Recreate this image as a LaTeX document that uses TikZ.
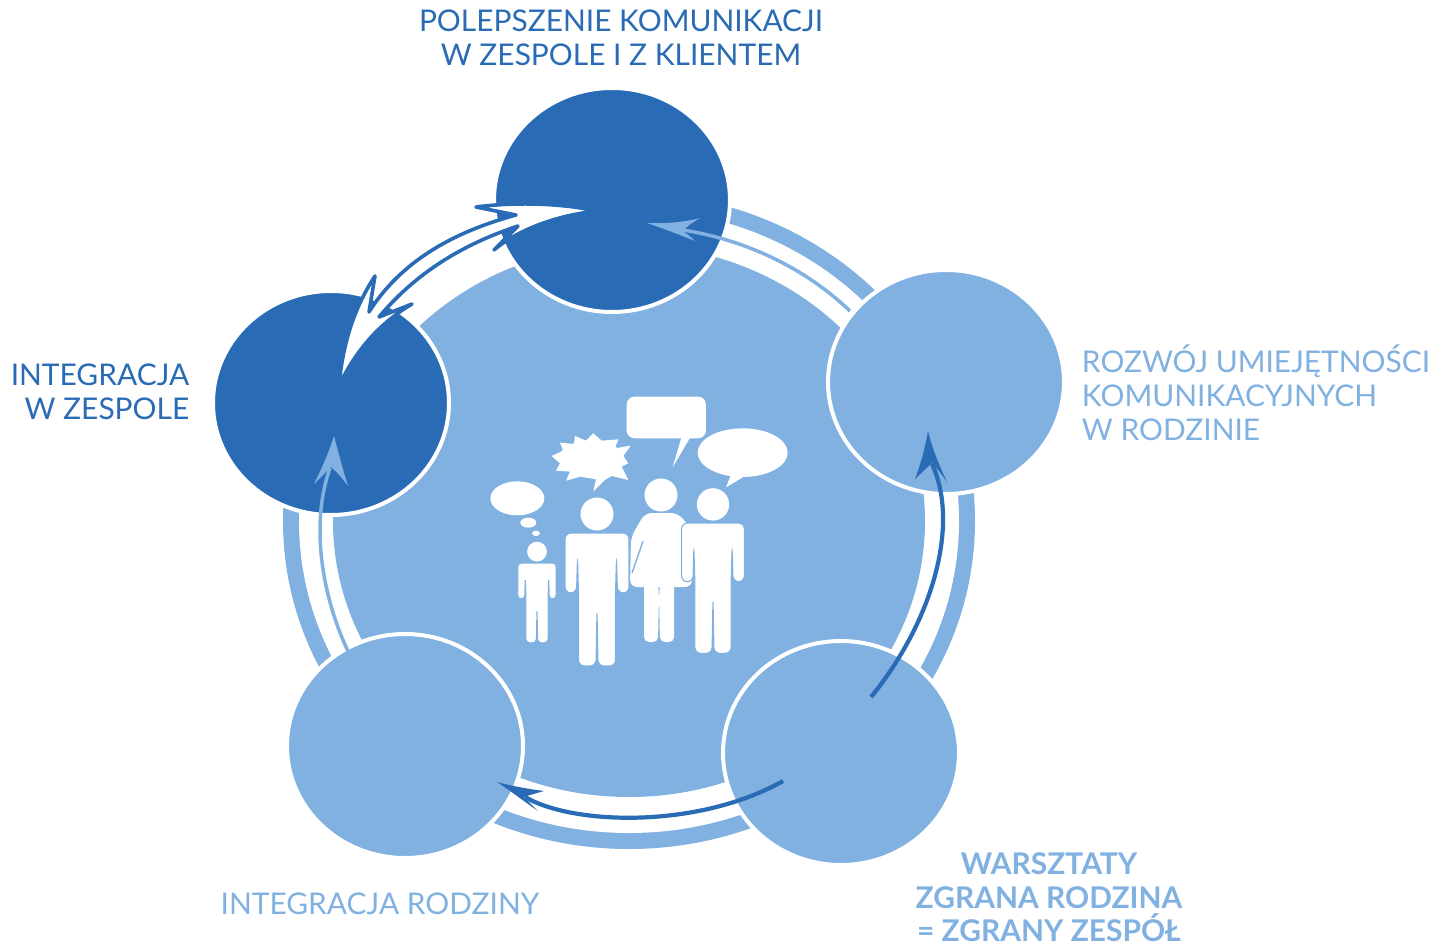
\documentclass[tikz,border=0pt]{standalone}
\usepackage{fontspec}
\setmainfont{Lato}
\usetikzlibrary{shapes.geometric}
\definecolor{dk}{HTML}{2A6BB5}
\definecolor{lt}{HTML}{80B1E1}
\tikzset{
 bub/.style={ellipse,minimum width=236pt,minimum height=224pt,inner sep=0pt,draw=white,line width=4pt},
 lab/.style={font=\fontsize{29.9}{34}\selectfont,align=center,inner sep=0pt},
 figure/.style={fill=white,draw=lt,line width=1.1pt},
 slit/.style={draw=lt,line width=1.4pt},
 dkarrow/.style={dk,line width=4.2pt},
 ltarrow/.style={lt,line width=3.5pt},
 dbl/.style={fill=white,draw=dk,line width=3.6pt,line join=round},
}
\newcommand\person[3]{%
 \begin{scope}[shift={(#1,#2)},scale=#3]
  \fill[white] (0,-19) circle (16.5);
  \path[figure,rounded corners=#3*6pt] (-32,0) -- (32,0) -- (32,60) -- (20.5,60) -- (19.5,25) -- (18.5,60) -- (18.5,133) -- (1,133) -- (0,77) -- (-1,133) -- (-18.5,133) -- (-18.5,60) -- (-19.5,25) -- (-20.5,60) -- (-32,60) -- cycle;
 \end{scope}}
\begin{document}
\begin{tikzpicture}[x=1pt,y=-1pt]
\useasboundingbox (0,0) rectangle (1438,947);
\fill[white] (0,0) rectangle (1438,947);
% ring
\fill[lt] (629,521) ellipse [x radius=346,y radius=328];
\fill[white] (629,521) ellipse [x radius=330,y radius=312];
\fill[white] (331,403) -- (612,200) -- (612,100) -- (250,230) -- cycle;
\fill[lt] (629,521) ellipse [x radius=296,y radius=276];
% bubbles
\node[bub,fill=dk] (top) at (612,200) {};
\node[bub,fill=lt] (right) at (946,382) {};
\node[bub,fill=lt] (br) at (841,753) {};
\node[bub,fill=lt] (bl) at (405,746) {};
\node[bub,fill=dk] (left) at (331,403) {};
% labels
\node[lab,text=dk] (t1) at (621,38) {POLEPSZENIE KOMUNIKACJI\\W ZESPOLE I Z KLIENTEM};
\node[lab,text=dk,align=right] (t2) at (100,392) {INTEGRACJA\\W ZESPOLE};
\node[lab,text=lt,align=left] (t3) at (1256,393) {ROZWÓJ UMIEJĘTNOŚCI\\KOMUNIKACYJNYCH\\W RODZINIE};
\node[lab,text=lt] (t4) at (380,904) {INTEGRACJA RODZINY};
\node[lab,text=lt,font=\fontsize{29.9}{33.5}\selectfont\bfseries] (t5) at (1049,897.5) {WARSZTATY\\ZGRANA RODZINA\\= ZGRANY ZESPÓŁ};
% arrows
\coordinate (a1s) at (871,697);
\coordinate (a1e) at (932,464);
\coordinate (a2s) at (783,781);
\coordinate (a2e) at (525,797);
\coordinate (a3s) at (850,311);
\coordinate (a3e) at (683,230);
\coordinate (a4s) at (355,665);
\coordinate (a4e) at (330,468);
\draw[ltarrow] (a3s) .. controls (805,268) and (746,240) .. (a3e);
\fill[lt] (647,223) .. controls (665,224) and (685,222) .. (700,218) .. controls (690,224) and (685,228) .. (683,231) .. controls (687,234) and (691,237) .. (695,241) .. controls (680,235) and (665,229) .. cycle;
\draw[ltarrow] (a4s) .. controls (325,610) and (308,530) .. (a4e);
\fill[lt] (334,436) .. controls (339,455) and (343,470) .. (348,486) .. controls (342,478) and (337,472) .. (331,467) .. controls (326,472) and (320,478) .. (314,484) .. controls (322,468) and (329,452) .. cycle;
\draw[dkarrow] (a1s) .. controls (933,621) and (960,524) .. (a1e);
\fill[dk] (928,431) .. controls (932,448) and (939,465) .. (947,482) .. controls (942,475) and (937,468) .. (932,463) .. controls (927,468) and (921,473) .. (915,479) .. controls (921,463) and (925,448) .. cycle;
\draw[dkarrow] (a2s) .. controls (700,828) and (575,826) .. (a2e);
\fill[dk] (497,782) .. controls (512,786) and (528,789) .. (544,791) .. controls (537,793) and (530,795) .. (524,797) .. controls (528,801) and (533,806) .. (538,811) .. controls (525,802) and (512,792) .. cycle;
% double arrow
\coordinate (da) at (597,211);
\coordinate (db) at (339,386);
\path[dbl] (da) .. controls (560,215) and (520,228) .. (494,250)
  -- (518,226) .. controls (470,242) and (420,268) .. (379,317)
  -- (412,304) .. controls (385,320) and (358,345) .. (db)
  .. controls (343,340) and (356,305) .. (375,276)
  -- (369,312) .. controls (400,263) and (450,233) .. (516,215)
  -- (476,207) .. controls (515,202) and (560,203) .. (da) -- cycle;
% speech bubbles
\begin{scope}[shift={(480,380)},x=0.3333pt,y=-0.3333pt]
 \fill[white] (112,355) ellipse [x radius=81,y radius=51];
 \fill[white] (145,428) ellipse [x radius=24,y radius=15];
 \fill[white] (168,460) ellipse [x radius=12,y radius=8];
 \fill[white] (333,232) ellipse [x radius=95,y radius=50];
 \fill[white] (215,228) -- (250,212) -- (240,188) -- (282,192) -- (285,168) -- (318,182) -- (340,160) -- (365,182) -- (415,178) -- (405,205) -- (452,197) -- (430,228) -- (445,250) -- (425,260) -- (445,300) -- (395,288) -- (375,300) -- (340,335) -- (348,298) -- (300,290) -- (258,302) -- (270,275) -- (228,272) -- (240,250) -- cycle;
 \fill[white,rounded corners=8pt] (440,50) rectangle (678,175);
 \fill[white] (605,170) -- (578,262) -- (632,170) -- cycle;
 \fill[white] (788,218) ellipse [x radius=135,y radius=73];
 \fill[white] (755,280) -- (738,322) -- (800,285) -- cycle;
\end{scope}
% people
\person{537}{563}{0.6}
\begin{scope}
 \fill[white] (661,495) circle (16.5);
 \fill[white,rounded corners=7pt] (645,513) -- (678,513) -- (692,530) -- (692,587) -- (630,587) -- (631,537) -- cycle;
 \fill[white,rounded corners=5pt] (644,580) -- (658,580) -- (659,600) -- (660,580) -- (674,580) -- (674,642) -- (660,642) -- (659,595) -- (658,642) -- (644,642) -- cycle;
 \draw[slit] (643,541) -- (632,573);
\end{scope}
\person{597}{533}{1}
\person{713}{523}{0.98}
\end{tikzpicture}
\end{document}
